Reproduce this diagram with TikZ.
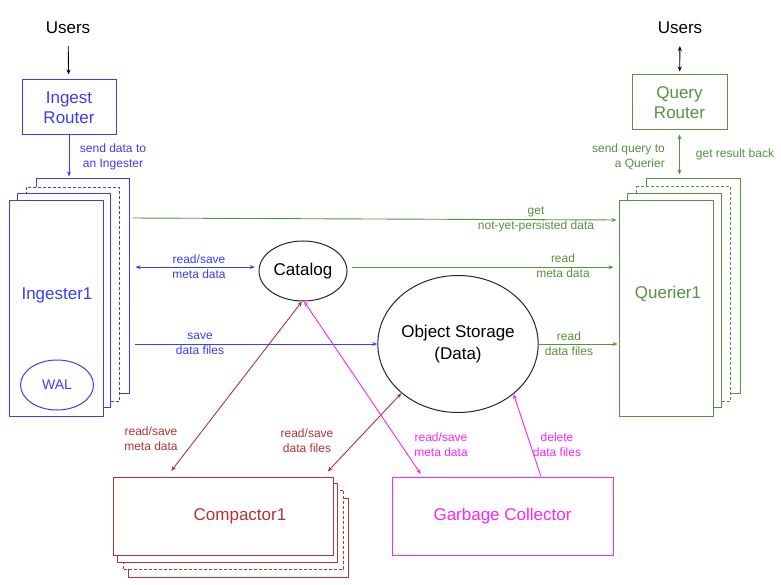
\documentclass[tikz,border=0pt]{standalone}
\usepackage{fontspec}
\setmainfont{Liberation Sans}
\usetikzlibrary{arrows.meta,shapes.geometric}

\definecolor{ingblue}{RGB}{61,61,245}
\definecolor{qgreen}{RGB}{88,145,64}
\definecolor{compred}{RGB}{178,52,52}
\definecolor{gcpink}{RGB}{250,40,250}

\tikzset{
  box/.style={rectangle, draw, fill=white, line width=1pt, inner sep=0pt},
  dashbox/.style={box, dash pattern=on 3pt off 2pt},
  lbl/.style={font=\fontsize{12}{15}\selectfont, align=center, inner sep=0pt},
  big/.style={font=\fontsize{17}{20}\selectfont, align=center, inner sep=0pt},
  arr/.style={line width=0.9pt, -{Stealth[length=5pt,width=4pt]}},
  darr/.style={line width=0.9pt, {Stealth[length=5pt,width=4pt]}-{Stealth[length=5pt,width=4pt]}},
}

\begin{document}
\begin{tikzpicture}[x=1pt, y=-1pt]
        \useasboundingbox[fill=white] (0,0) rectangle (781,585);

        % Utenti e router
        \node[big] (usersl) at (68,28) {Users};
        \node[big] (usersr) at (680,28) {Users};
        \node[box, big, draw=ingblue, text=ingblue, minimum width=94, minimum height=55] (ingrouter) at (69,107.5) {Ingest\\Router};
        \node[box, big, draw=qgreen, text=qgreen, minimum width=95, minimum height=55] (qrouter) at (679.5,102.5) {Query\\Router};

        % Pila degli ingester
        \node[box, draw=ingblue, minimum width=93, minimum height=214] (ing4) at (82.5,286) {};
        \node[dashbox, draw=ingblue, minimum width=93, minimum height=214] (ing3) at (72.5,294.5) {};
        \node[box, draw=ingblue, minimum width=93, minimum height=214] (ing2) at (63.5,300.5) {};
        \node[box, draw=ingblue, minimum width=94, minimum height=215] (ing1) at (56,308.5) {};
        \node[big, text=ingblue] (ingname) at (57,295) {Ingester1};
        \node[ellipse, draw=ingblue, line width=1pt, text=ingblue, inner sep=0pt, minimum width=73, minimum height=50, font=\fontsize{14}{16}\selectfont] (wal) at (57,385) {WAL};

        % Pila dei querier
        \node[box, draw=qgreen, minimum width=94, minimum height=214] (q4) at (693,286) {};
        \node[dashbox, draw=qgreen, minimum width=94, minimum height=214] (q3) at (683.5,294) {};
        \node[box, draw=qgreen, minimum width=94, minimum height=214] (q2) at (674,300.5) {};
        \node[box, draw=qgreen, minimum width=94, minimum height=215] (q1) at (666,308.5) {};
        \node[big, text=qgreen] (qname) at (668,294) {Querier1};

        % Catalog e storage
        \node[ellipse, draw=black!85, line width=1pt, big, minimum width=88, minimum height=60] (cat) at (303,271) {Catalog};
        \node[ellipse, draw=black!85, line width=1pt, big, font=\fontsize{17}{22}\selectfont, minimum width=156, minimum height=137] (os) at (458,344) {Object Storage\\(Data)};

        % Pila dei compactor
        \node[box, draw=compred, minimum width=220, minimum height=79] (c4) at (238.5,538) {};
        \node[dashbox, draw=compred, minimum width=220, minimum height=79] (c3) at (233.5,529.5) {};
        \node[box, draw=compred, minimum width=220, minimum height=79] (c2) at (227.5,523) {};
        \node[box, draw=compred, minimum width=220, minimum height=78] (c1) at (223,516) {};
        \node[big, text=compred] (cname) at (240,516) {Compactor1};

        % Garbage collector
        \node[box, big, draw=gcpink, text=gcpink, minimum width=221, minimum height=78] (gc) at (502.5,516) {Garbage Collector};

        % Archi
        \draw[arr, shorten <=12pt, shorten >=5pt] (usersl) -- (ingrouter);
        \draw[darr, shorten <=12pt, shorten >=3pt] (usersr) -- (qrouter);
        \draw[arr, ingblue, shorten >=2pt] (ingrouter.south) -- (ingrouter.south |- ing4.north);
        \draw[darr, qgreen, shorten <=4pt, shorten >=4pt] (qrouter.south) -- (qrouter.south |- q4.north);
        \draw[arr, qgreen, shorten <=3pt, shorten >=2pt] (ing4.east |- 0,218) -- (q1.west |- 0,220);
        \draw[darr, ingblue, shorten <=6pt, shorten >=4pt] (ing4.east |- cat.175) -- (cat.175);
        \draw[arr, qgreen, shorten <=5pt, shorten >=5pt] (cat.5) -- (q1.west |- cat.5);
        \draw[arr, ingblue, shorten <=5pt] (ing4.east |- os.west) -- (os.west);
        \draw[arr, qgreen, shorten >=1pt] (os.east) -- (q1.west |- os.east);
        \draw[darr, compred, shorten <=7pt] ([xshift=-56pt]c1.north) -- (cat.268);
        \draw[darr, compred, shorten <=7pt] ([xshift=100pt]c1.north) -- (os.221);
        \draw[darr, gcpink, shorten <=3pt] ([xshift=-80pt]gc.north) -- (cat.272);
        \draw[arr, gcpink] ([xshift=38.5pt]gc.north) -- (os.318);

        % Etichette
        \node[lbl, text=ingblue] (senddata) at (113,156.5) {send data to\\an Ingester};
        \node[lbl, text=qgreen, align=right, anchor=east] (sendquery) at (665,156.5) {send query to\\a Querier};
        \node[lbl, text=qgreen] (getback) at (735,154) {get result back};
        \node[lbl, text=qgreen] (getnyp) at (536,219) {get\\not-yet-persisted data};
        \node[lbl, text=ingblue] (rsmeta) at (199,266.5) {read/save\\meta data};
        \node[lbl, text=qgreen] (readmeta) at (563,265.5) {read\\meta data};
        \node[lbl, text=ingblue] (savefiles) at (200,344) {save\\data files};
        \node[lbl, text=qgreen] (readfiles) at (569,344) {read\\data files};
        \node[lbl, text=compred] (cmeta) at (151,438.5) {read/save\\meta data};
        \node[lbl, text=compred] (cfiles) at (307,440.5) {read/save\\data files};
        \node[lbl, text=gcpink] (gcmeta) at (441,444.5) {read/save\\meta data};
        \node[lbl, text=gcpink] (gcdelete) at (557,444.5) {delete\\data files};
\end{tikzpicture}
\end{document}
